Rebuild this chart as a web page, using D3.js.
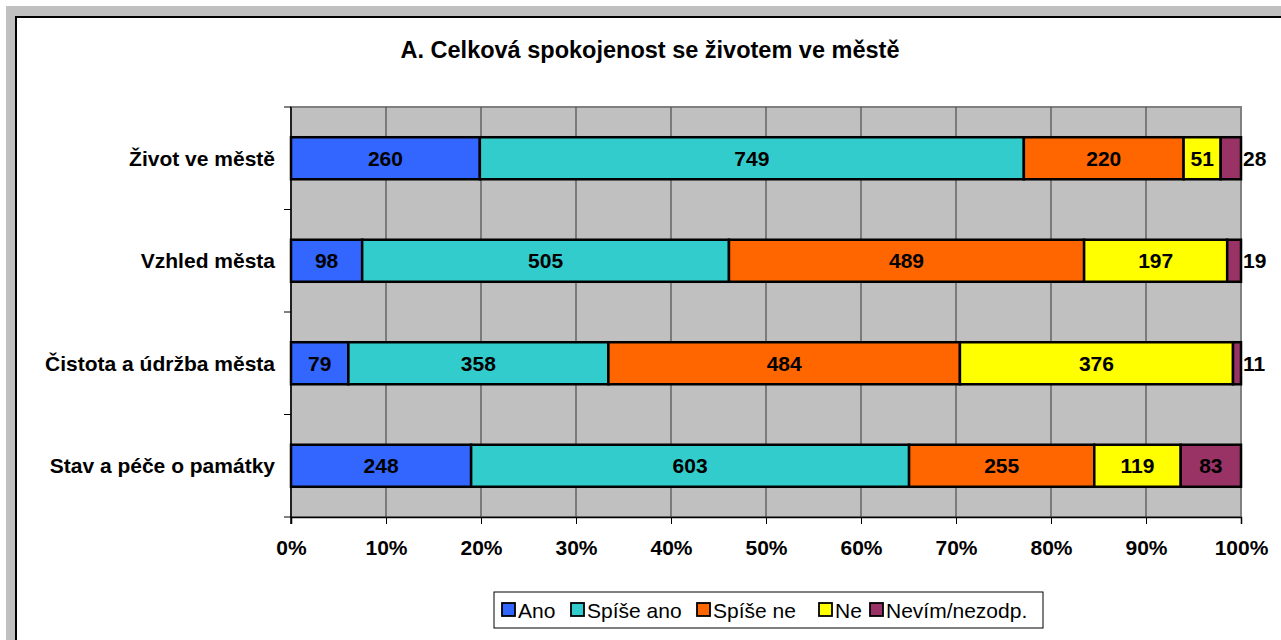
<!DOCTYPE html>
<html>
<head>
<meta charset="utf-8">
<script src="https://cdn.jsdelivr.net/npm/d3@7"></script>
<style>
  html, body { margin: 0; padding: 0; background: #fff; }
  svg { display: block; font-family: "Liberation Sans", Arial, sans-serif; }
</style>
</head>
<body>
<svg id="chart" width="1281" height="640"></svg>
<script>
// data
const categories = ['Život ve městě', 'Vzhled města', 'Čistota a údržba města', 'Stav a péče o památky'];
const seriesNames = ['Ano', 'Spíše ano', 'Spíše ne', 'Ne', 'Nevím/nezodp.'];
const seriesColors = ['#3366FF', '#33CCCC', '#FF6600', '#FFFF00', '#993366'];
const ano = [260, 98, 79, 248];
const spiseAno = [749, 505, 358, 603];
const spiseNe = [220, 489, 484, 255];
const ne = [51, 197, 376, 119];
const nevim = [28, 19, 11, 83];
const xTicks = [0, 0.1, 0.2, 0.3, 0.4, 0.5, 0.6, 0.7, 0.8, 0.9, 1];

const svg = d3.select('#chart');
const fs = 21;

// outer frame
svg.append('rect').attr('x', 6).attr('y', 6).attr('width', 1281).attr('height', 640).attr('fill', '#c0c0c0');
svg.append('rect').attr('x', 16).attr('y', 17).attr('width', 1300).attr('height', 700)
  .attr('fill', '#fff').attr('stroke', '#000').attr('stroke-width', 2);

svg.append('text').attr('x', 650).attr('y', 58).attr('text-anchor', 'middle')
  .attr('font-size', 23.5).attr('font-weight', 'bold').text('A. Celková spokojenost se životem ve městě');

const pLeft = 291, pRight = 1241, pTop = 107, pBottom = 517;

const x = d3.scaleLinear().domain([0, 1]).range([pLeft, pRight]);
const y = d3.scaleBand().domain(categories).range([pTop, pBottom]).paddingInner(0.59).paddingOuter(0.295);

// plot area
svg.append('rect').attr('x', pLeft).attr('y', pTop).attr('width', pRight - pLeft).attr('height', pBottom - pTop)
  .attr('fill', '#c0c0c0').attr('stroke', '#808080').attr('stroke-width', 2);

svg.append('g').selectAll('line').data(xTicks.slice(1, -1)).join('line')
  .attr('x1', d => x(d)).attr('x2', d => x(d)).attr('y1', pTop).attr('y2', pBottom)
  .attr('stroke', '#555').attr('stroke-width', 1.3);

// stacks
const table = categories.map((c, i) => ({
  cat: c, 'Ano': ano[i], 'Spíše ano': spiseAno[i], 'Spíše ne': spiseNe[i], 'Ne': ne[i], 'Nevím/nezodp.': nevim[i]
}));
const stacked = d3.stack().keys(seriesNames).offset(d3.stackOffsetExpand)(table);

const layers = svg.append('g').selectAll('g').data(stacked).join('g')
  .attr('fill', (d, i) => seriesColors[i]);

layers.selectAll('rect').data(d => d).join('rect')
  .attr('x', d => x(d[0])).attr('width', d => x(d[1]) - x(d[0]))
  .attr('y', d => y(d.data.cat)).attr('height', y.bandwidth())
  .attr('stroke', '#000').attr('stroke-width', 2.5);

layers.selectAll('text').data((d) => d.map(v => ({ v, key: d.key }))).join('text')
  .attr('fill', '#000').attr('font-size', fs).attr('font-weight', 'bold')
  .attr('dy', '0.36em')
  .attr('y', d => y(d.v.data.cat) + y.bandwidth() / 2)
  .each(function (d) {
    const w = x(d.v[1]) - x(d.v[0]);
    const t = d3.select(this);
    if (w < 30) {
      t.attr('x', x(d.v[1]) + 2).attr('text-anchor', 'start');
    } else {
      t.attr('x', (x(d.v[0]) + x(d.v[1])) / 2).attr('text-anchor', 'middle');
    }
  })
  .text(d => d.v.data[d.key]);

// axes
const xAxis = svg.append('g').attr('transform', `translate(0,${pBottom})`)
  .call(d3.axisBottom(x).tickValues(xTicks).tickFormat(d3.format('.0%')).tickSize(7).tickPadding(16));
xAxis.select('.domain').attr('stroke', '#000').attr('stroke-width', 1.5);
xAxis.selectAll('.tick line').attr('stroke', '#000');
xAxis.selectAll('text').attr('font-size', fs).attr('font-weight', 'bold')
  .attr('font-family', '"Liberation Sans", Arial, sans-serif').attr('fill', '#000');

const yAxisG = svg.append('g');
yAxisG.append('line').attr('x1', pLeft).attr('x2', pLeft).attr('y1', pTop).attr('y2', pBottom + 7)
  .attr('stroke', '#000').attr('stroke-width', 1.5);
yAxisG.selectAll('line.tk').data(d3.range(categories.length + 1)).join('line').attr('class', 'tk')
  .attr('x1', pLeft - 7).attr('x2', pLeft)
  .attr('y1', i => pTop + i * (pBottom - pTop) / categories.length)
  .attr('y2', i => pTop + i * (pBottom - pTop) / categories.length)
  .attr('stroke', '#000');
yAxisG.selectAll('text').data(categories).join('text')
  .attr('x', 275).attr('y', d => y(d) + y.bandwidth() / 2).attr('dy', '0.36em')
  .attr('text-anchor', 'end').attr('font-size', fs).attr('font-weight', 'bold').text(d => d);

// legend
const legend = svg.append('g');
legend.append('rect').attr('x', 494).attr('y', 592).attr('width', 549).attr('height', 36)
  .attr('fill', '#fff').attr('stroke', '#000').attr('stroke-width', 1);
const legendX = [502, 571, 697, 819, 870];
seriesNames.forEach((s, i) => {
  legend.append('rect').attr('x', legendX[i]).attr('y', 603).attr('width', 13).attr('height', 13)
    .attr('fill', seriesColors[i]).attr('stroke', '#000').attr('stroke-width', 1.8);
  legend.append('text').attr('x', legendX[i] + 16).attr('y', 610).attr('dy', '0.36em')
    .attr('font-size', fs).text(s);
});
</script>
</body>
</html>
